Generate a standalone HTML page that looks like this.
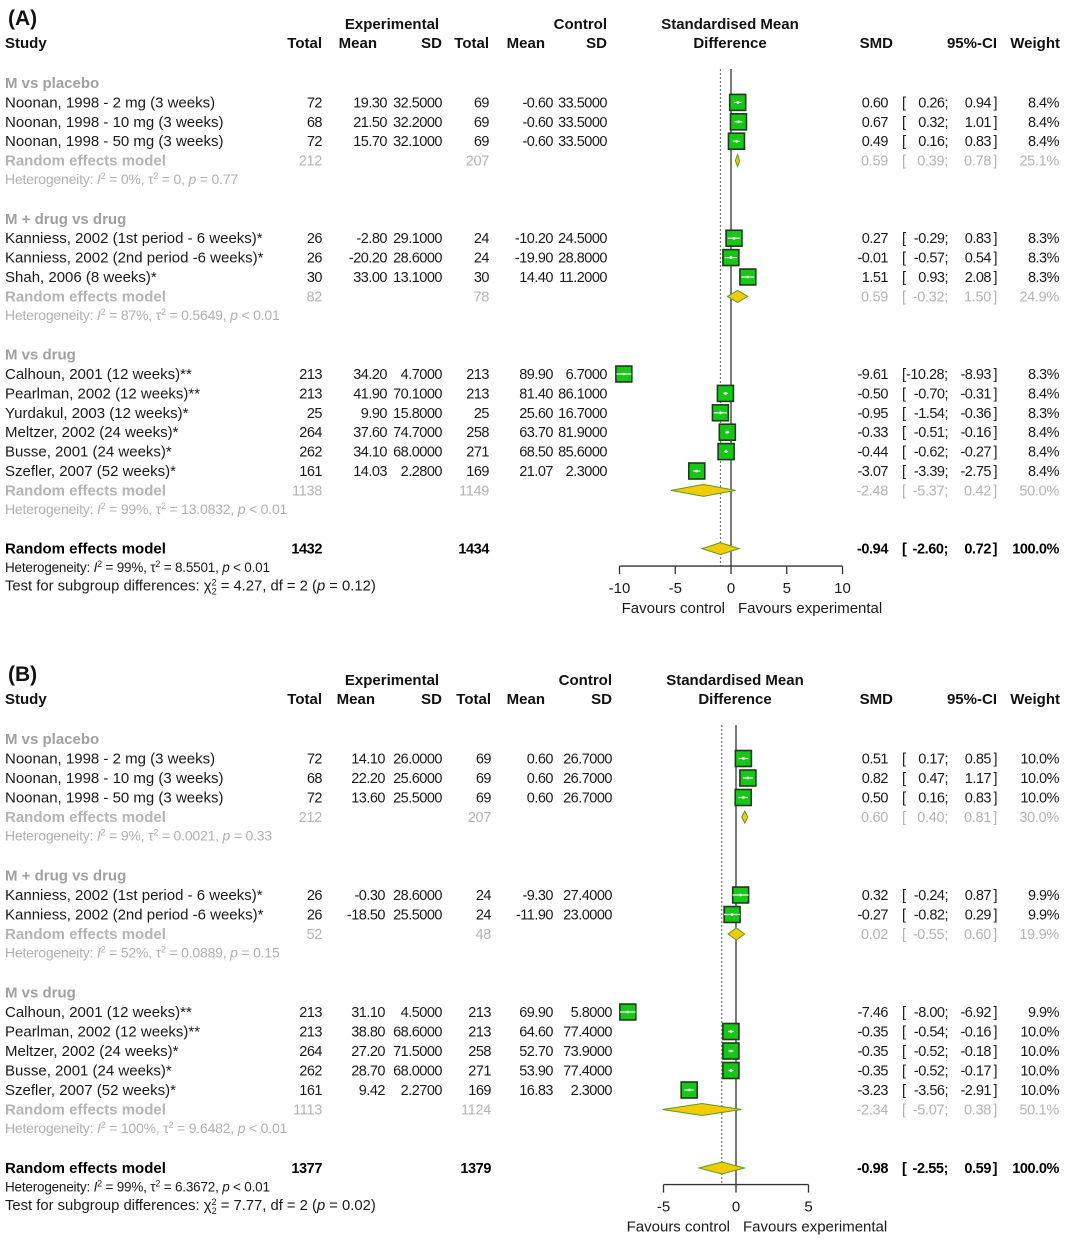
<!DOCTYPE html>
<html><head><meta charset="utf-8">
<style>
html,body{margin:0;padding:0;background:#fff;}
svg{display:block;font-family:"Liberation Sans",Arial,sans-serif;}
.h{font-weight:bold;font-size:15px;fill:#111;}
.t{font-size:15px;fill:#1a1a1a;}
.n{font-size:14.5px;fill:#1a1a1a;letter-spacing:-0.5px;}
.g{font-size:15px;fill:#a0a0a0;font-weight:bold;}
.r{font-size:15px;fill:#b4b4b4;font-weight:bold;}
.rv{font-size:14.5px;fill:#b4b4b4;letter-spacing:-0.3px;}
.het{font-size:14px;fill:#b0b0b0;letter-spacing:-0.2px;}
.ohet{font-size:13.5px;fill:#1a1a1a;letter-spacing:-0.2px;}
.ov{font-size:15px;fill:#000;font-weight:bold;}
.ovn{font-size:14.5px;fill:#000;font-weight:bold;letter-spacing:-0.4px;}
.sm{font-size:14.8px;fill:#1a1a1a;}
.tag{font-size:21px;font-weight:bold;fill:#111;}
</style></head>
<body>
<svg id="fig" width="1065" height="1241" viewBox="0 0 1065 1241" xmlns="http://www.w3.org/2000/svg"></svg>
<script>
// ---------- Panel A data ----------
const aLabels=["Noonan, 1998 - 2 mg (3 weeks)","Noonan, 1998 - 10 mg (3 weeks)","Noonan, 1998 - 50 mg (3 weeks)",
"Kanniess, 2002 (1st period - 6 weeks)*","Kanniess, 2002 (2nd period -6 weeks)*","Shah, 2006 (8 weeks)*",
"Calhoun, 2001 (12 weeks)**","Pearlman, 2002 (12 weeks)**","Yurdakul, 2003 (12 weeks)*","Meltzer, 2002 (24 weeks)*","Busse, 2001 (24 weeks)*","Szefler, 2007 (52 weeks)*"];
const aGroup=[0,0,0,1,1,1,2,2,2,2,2,2];
const aNE=[72,68,72,26,26,30,213,213,25,264,262,161];
const aMeanE=["19.30","21.50","15.70","-2.80","-20.20","33.00","34.20","41.90","9.90","37.60","34.10","14.03"];
const aSdE=["32.5000","32.2000","32.1000","29.1000","28.6000","13.1000","4.7000","70.1000","15.8000","74.7000","68.0000","2.2800"];
const aNC=[69,69,69,24,24,30,213,213,25,258,271,169];
const aMeanC=["-0.60","-0.60","-0.60","-10.20","-19.90","14.40","89.90","81.40","25.60","63.70","68.50","21.07"];
const aSdC=["33.5000","33.5000","33.5000","24.5000","28.8000","11.2000","6.7000","86.1000","16.7000","81.9000","85.6000","2.3000"];
const aSmd=[0.60,0.67,0.49,0.27,-0.01,1.51,-9.61,-0.50,-0.95,-0.33,-0.44,-3.07];
const aLo=[0.26,0.32,0.16,-0.29,-0.57,0.93,-10.28,-0.70,-1.54,-0.51,-0.62,-3.39];
const aHi=[0.94,1.01,0.83,0.83,0.54,2.08,-8.93,-0.31,-0.36,-0.16,-0.27,-2.75];
const aW=[8.4,8.4,8.4,8.3,8.3,8.3,8.3,8.4,8.3,8.4,8.4,8.4];
const aGroupNames=["M vs placebo","M + drug vs drug","M vs drug"];
const aReNE=[212,82,1138], aReNC=[207,78,1149];
const aReSmd=[0.59,0.59,-2.48], aReLo=[0.39,-0.32,-5.37], aReHi=[0.78,1.50,0.42], aReW=[25.1,24.9,50.0];
const aHet=[["0%","0","= 0.77"],["87%","0.5649","< 0.01"],["99%","13.0832","< 0.01"]];
const aOverall=[1432,1434,-0.94,-2.60,0.72,"100.0%"];
const aOverallHet=["99%","8.5501","< 0.01"];
const aTest=["4.27","2","0.12"];
const aTicks=[-10,-5,0,5,10];

// ---------- Panel B data ----------
const bLabels=["Noonan, 1998 - 2 mg (3 weeks)","Noonan, 1998 - 10 mg (3 weeks)","Noonan, 1998 - 50 mg (3 weeks)",
"Kanniess, 2002 (1st period - 6 weeks)*","Kanniess, 2002 (2nd period -6 weeks)*",
"Calhoun, 2001 (12 weeks)**","Pearlman, 2002 (12 weeks)**","Meltzer, 2002 (24 weeks)*","Busse, 2001 (24 weeks)*","Szefler, 2007 (52 weeks)*"];
const bGroup=[0,0,0,1,1,2,2,2,2,2];
const bNE=[72,68,72,26,26,213,213,264,262,161];
const bMeanE=["14.10","22.20","13.60","-0.30","-18.50","31.10","38.80","27.20","28.70","9.42"];
const bSdE=["26.0000","25.6000","25.5000","28.6000","25.5000","4.5000","68.6000","71.5000","68.0000","2.2700"];
const bNC=[69,69,69,24,24,213,213,258,271,169];
const bMeanC=["0.60","0.60","0.60","-9.30","-11.90","69.90","64.60","52.70","53.90","16.83"];
const bSdC=["26.7000","26.7000","26.7000","27.4000","23.0000","5.8000","77.4000","73.9000","77.4000","2.3000"];
const bSmd=[0.51,0.82,0.50,0.32,-0.27,-7.46,-0.35,-0.35,-0.35,-3.23];
const bLo=[0.17,0.47,0.16,-0.24,-0.82,-8.00,-0.54,-0.52,-0.52,-3.56];
const bHi=[0.85,1.17,0.83,0.87,0.29,-6.92,-0.16,-0.18,-0.17,-2.91];
const bW=[10.0,10.0,10.0,9.9,9.9,9.9,10.0,10.0,10.0,10.0];
const bGroupNames=["M vs placebo","M + drug vs drug","M vs drug"];
const bReNE=[212,52,1113], bReNC=[207,48,1124];
const bReSmd=[0.60,0.02,-2.34], bReLo=[0.40,-0.55,-5.07], bReHi=[0.81,0.60,0.38], bReW=[30.0,19.9,50.1];
const bHet=[["9%","0.0021","= 0.33"],["52%","0.0889","= 0.15"],["100%","9.6482","< 0.01"]];
const bOverall=[1377,1379,-0.98,-2.55,0.59,"100.0%"];
const bOverallHet=["99%","6.3672","< 0.01"];
const bTest=["7.77","2","0.02"];
const bTicks=[-5,0,5];

const NS="http://www.w3.org/2000/svg";
const svg=document.getElementById('fig');
function mk(tag,attrs,parent){const e=document.createElementNS(NS,tag);for(const k in attrs)e.setAttribute(k,attrs[k]);(parent||svg).appendChild(e);return e;}
function txt(x,y,s,cls,anchor,parent){const e=mk('text',{x:x,y:y,class:cls,'text-anchor':anchor||'start'},parent);e.setAttribute('xml:space','preserve');e.textContent=s;return e;}
function f2(v){return (v<0?"-":"")+Math.abs(v).toFixed(2);}
function ciText(y,lo,hi,cls,g){
  txt(902,y,"[",cls,'start',g);
  const los=f2(lo)+";";
  if(lo<=-10) txt(906,y,los,cls,'start',g); else txt(948,y,los,cls,'end',g);
  txt(991,y,f2(hi),cls,'end',g);
  txt(997,y,"]",cls,'end',g);
}
function hetLine(x,y,h,g,cls){
  const e=mk('text',{x:x,y:y,class:cls||'het'},g);
  e.setAttribute('xml:space','preserve');
  const add=(s,attrs)=>{const t=mk('tspan',attrs||{},e);t.textContent=s;return t;};
  add("Heterogeneity: ");
  add("I",{'font-style':'italic'});
  add("2",{'font-size':'9',dy:'-5'});
  add(" = "+h[0]+", τ",{dy:'5'});
  add("2",{'font-size':'9',dy:'-5'});
  add(" = "+h[1]+", ",{dy:'5'});
  add("p",{'font-style':'italic'});
  add(" "+h[2]);
  return e;
}

function panel(P){
  const g=mk('g',{});
  
  
  const y0=P.y0, st=P.step;
  const X=v=>P.x0+v*P.scale;
  const col=P.col;
  const lab=txt(8,P.y0-58,P.tag,'tag','start',g);
  
  const hy1=P.y0-54, hy2=P.y0-35;
  txt(392,hy1,"Experimental",'h','middle',g);
  txt(col.sdC,hy1,"Control",'h','end',g);
  txt(5,hy2,"Study",'h','start',g);
  txt(col.nE,hy2,"Total",'h','end',g);
  txt(col.meanE-10,hy2,"Mean",'h','end',g);
  txt(col.sdE,hy2,"SD",'h','end',g);
  txt(col.nC,hy2,"Total",'h','end',g);
  txt(col.meanC-8,hy2,"Mean",'h','end',g);
  txt(col.sdC,hy2,"SD",'h','end',g);
  txt(P.hx,hy1,"Standardised Mean",'h','middle',g);
  txt(P.hx,hy2,"Difference",'h','middle',g);
  txt(893,hy2,"SMD",'h','end',g);
  txt(997,hy2,"95%-CI",'h','end',g);
  txt(1060,hy2,"Weight",'h','end',g);
  const yb=i=>y0+i*st+5;
  const yc=i=>y0+i*st;
  const topY=P.y0-14, axY=yc(P.axRow);
  mk('line',{x1:X(0),y1:topY,x2:X(0),y2:axY,stroke:'#333','stroke-width':1.3},g);
  mk('line',{x1:X(P.ov[2]),y1:topY,x2:X(P.ov[2]),y2:axY,stroke:'#777','stroke-width':1.2,'stroke-dasharray':'2,2'},g);
  let row=0, si=0;
  for(let gi=0;gi<3;gi++){
    const gh=txt(5,yb(row),P.gnames[gi],'g','start',g);
    
    row++;
    while(si<P.labels.length&&P.group[si]===gi){
      const i=si, yy=yb(row), c=yc(row);
      const sl=txt(5,yy,P.labels[i],'t','start',g);
      
      txt(col.nE,yy,String(P.nE[i]),'n','end',g);
      txt(col.meanE,yy,P.meanE[i],'n','end',g);
      txt(col.sdE,yy,P.sdE[i],'n','end',g);
      txt(col.nC,yy,String(P.nC[i]),'n','end',g);
      txt(col.meanC,yy,P.meanC[i],'n','end',g);
      txt(col.sdC,yy,P.sdC[i],'n','end',g);
      txt(888,yy,f2(P.smd[i]),'n','end',g);
      ciText(yy,P.lo[i],P.hi[i],'n',g);
      txt(1059,yy,P.w[i].toFixed(1)+"%",'n','end',g);
      const s=16*Math.sqrt(P.w[i]/P.wref);
      const sq=mk('rect',{x:X(P.smd[i])-s/2,y:c-s/2,width:s,height:s,fill:'#16c716',stroke:'#1f3a1f','stroke-width':1.6},g);
      
      const cl=mk('line',{x1:X(P.lo[i]),y1:c,x2:X(P.hi[i]),y2:c,stroke:'#eaffea','stroke-width':1.2},g);
      
      mk('circle',{cx:X(P.smd[i]),cy:c,r:1.4,fill:'#fff'},g);
      row++; si++;
    }
    const yy=yb(row), c=yc(row);
    txt(5,yy,"Random effects model",'r','start',g);
    txt(col.nE,yy,String(P.reNE[gi]),'rv','end',g);
    txt(col.nC,yy,String(P.reNC[gi]),'rv','end',g);
    txt(888,yy,f2(P.reSmd[gi]),'rv','end',g);
    ciText(yy,P.reLo[gi],P.reHi[gi],'rv',g);
    txt(1059,yy,P.reW[gi].toFixed(1)+"%",'rv','end',g);
    const d=mk('polygon',{points:`${X(P.reLo[gi])},${c} ${X(P.reSmd[gi])},${c-6} ${X(P.reHi[gi])},${c} ${X(P.reSmd[gi])},${c+6}`,fill:'#f2cc00',stroke:'#5c9a2a','stroke-width':1},g);
    
    row++;
    const h=hetLine(5,yb(row)-1,P.het[gi],g);
    
    row+=2;
  }
  const orow=P.ovRow, oy=yb(orow), oc=yc(orow);
  txt(5,oy,"Random effects model",'ov','start',g);
  txt(col.nE,oy,String(P.ov[0]),'ovn','end',g);
  txt(col.nC,oy,String(P.ov[1]),'ovn','end',g);
  txt(888,oy,f2(P.ov[2]),'ovn','end',g);
  ciText(oy,P.ov[3],P.ov[4],'ovn',g);
  txt(1059,oy,P.ov[5],'ovn','end',g);
  const od=mk('polygon',{points:`${X(P.ov[3])},${oc} ${X(P.ov[2])},${oc-6} ${X(P.ov[4])},${oc} ${X(P.ov[2])},${oc+6}`,fill:'#f2cc00',stroke:'#5c9a2a','stroke-width':1},g);
  
  const oh=hetLine(5,yb(orow+1)-1,P.ovHet,g,'ohet');
  
  const te=mk('text',{x:5,y:yb(orow+2)-2,class:'sm'},g);
  
  te.setAttribute('xml:space','preserve');
  const a=mk('tspan',{},te);a.textContent="Test for subgroup differences: χ";
  const b=mk('tspan',{'font-size':'9',dy:'-5'},te);b.textContent="2";
  const b2=mk('tspan',{'font-size':'9',dy:'9',dx:'-5'},te);b2.textContent="2";
  const c2=mk('tspan',{dy:'-4'},te);c2.textContent=" = "+P.test[0]+", df = "+P.test[1]+" (";
  const c3=mk('tspan',{'font-style':'italic'},te);c3.textContent="p";
  const c4=mk('tspan',{},te);c4.textContent=" = "+P.test[2]+")";
  const ax=mk('g',{},g);
  
  const t0=P.ticks[0], t1=P.ticks[P.ticks.length-1];
  mk('line',{x1:X(t0),y1:axY,x2:X(t1),y2:axY,stroke:'#333','stroke-width':1.3},ax);
  P.ticks.forEach(t=>{
    mk('line',{x1:X(t),y1:axY,x2:X(t),y2:axY+8,stroke:'#333','stroke-width':1.3},ax);
    const tl=txt(X(t),axY+27,String(t),'t','middle',ax);
    
  });
  const fc=txt(X(0)-6,axY+47,"Favours control",'t','end',ax);
  
  const fe=txt(X(0)+7,axY+47,"Favours experimental",'t','start',ax);
  
}

panel({name:'panel-a',tag:'(A)',y0:83,step:19.4,x0:731,scale:11.15,hx:730,wref:8.4,axRow:24.9,ovRow:24,
 col:{nE:322,meanE:387,sdE:442,nC:489,meanC:553,sdC:607},
 labels:aLabels,group:aGroup,nE:aNE,meanE:aMeanE,sdE:aSdE,nC:aNC,meanC:aMeanC,sdC:aSdC,smd:aSmd,lo:aLo,hi:aHi,w:aW,
 gnames:aGroupNames,reNE:aReNE,reNC:aReNC,reSmd:aReSmd,reLo:aReLo,reHi:aReHi,reW:aReW,het:aHet,ov:aOverall,ovHet:aOverallHet,test:aTest,ticks:aTicks});
panel({name:'panel-b',tag:'(B)',y0:739,step:19.5,x0:736,scale:14.5,hx:735,wref:10,axRow:22.85,ovRow:22,
 col:{nE:322,meanE:385,sdE:442,nC:491,meanC:553,sdC:612},
 labels:bLabels,group:bGroup,nE:bNE,meanE:bMeanE,sdE:bSdE,nC:bNC,meanC:bMeanC,sdC:bSdC,smd:bSmd,lo:bLo,hi:bHi,w:bW,
 gnames:bGroupNames,reNE:bReNE,reNC:bReNC,reSmd:bReSmd,reLo:bReLo,reHi:bReHi,reW:bReW,het:bHet,ov:bOverall,ovHet:bOverallHet,test:bTest,ticks:bTicks});
</script>
</body></html>
